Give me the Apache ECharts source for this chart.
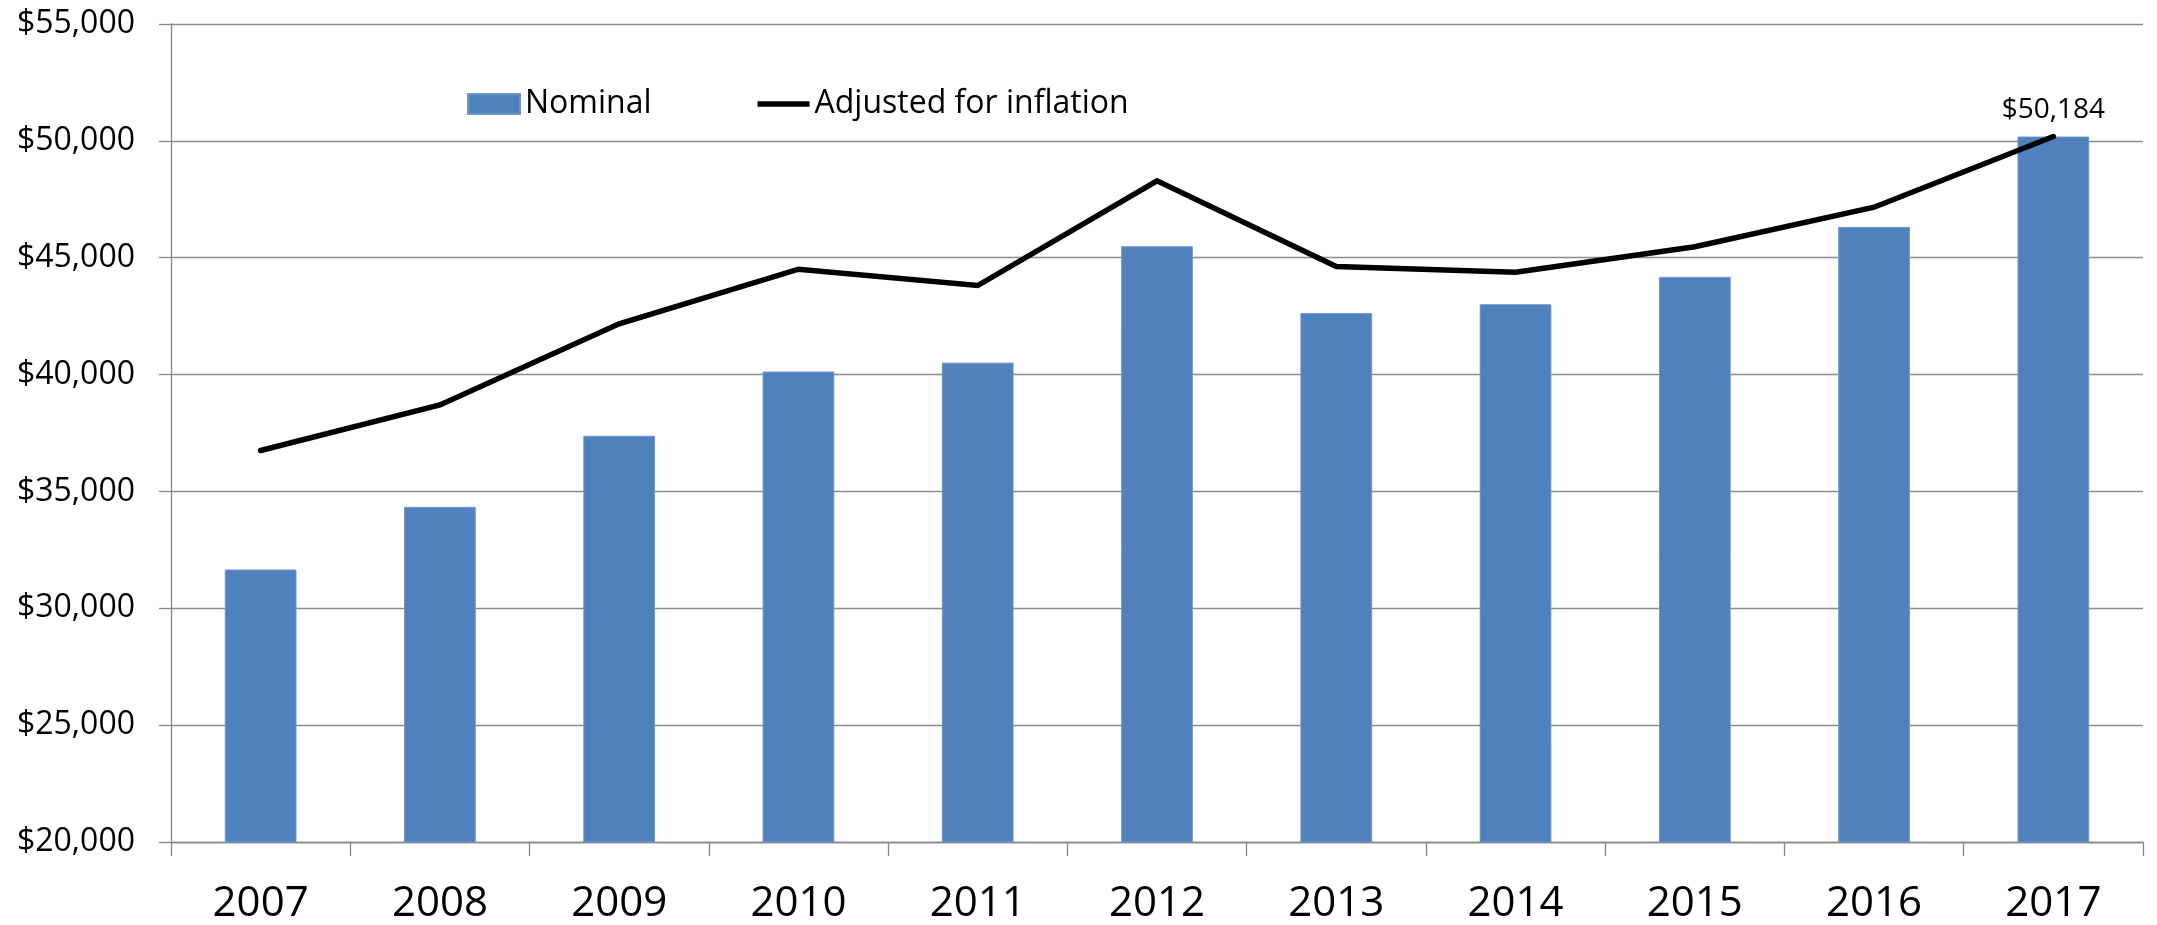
<!DOCTYPE html>
<html>
<head>
<meta charset="utf-8">
<script src="https://cdn.jsdelivr.net/npm/echarts@6/dist/echarts.min.js"></script>
<style>
html,body{margin:0;padding:0;background:#fff;}
#chart{width:2157px;height:925px;}
</style>
</head>
<body>
<div id="chart"></div>
<script>
const years = ['2007','2008','2009','2010','2011','2012','2013','2014','2015','2016','2017'];
const nominal = [31660, 34340, 37380, 40130, 40510, 45490, 42630, 43010, 44180, 46320, 50184];
const adjusted = [36750, 38700, 42170, 44510, 43810, 48290, 44620, 44380, 45470, 47160, 50184];
const seriesNames = ['Nominal', 'Adjusted for inflation'];
const yMin = 20000, yMax = 55000, yStep = 5000;

const FONT = '"Open Sans", sans-serif';
const chart = echarts.init(document.getElementById('chart'), null, {renderer: 'canvas'});
const fmt = v => '$' + v.toLocaleString('en-US');

chart.setOption({
  animation: false,
  backgroundColor: '#ffffff',
  textStyle: {fontFamily: FONT},
  grid: {left: 171, right: 14, top: 24, bottom: 82, containLabel: false},
  legend: {
    left: 462, top: 83,
    itemWidth: 52, itemHeight: 20, itemGap: 106,
    textStyle: {fontFamily: FONT, fontSize: 32, color: '#000'},
    data: [
      {name: seriesNames[0], icon: 'rect'},
      {name: seriesNames[1], icon: 'path://M0,0 L56,0 L56,6 L0,6 Z'}
    ]
  },
  xAxis: {
    type: 'category',
    data: years,
    boundaryGap: true,
    axisLine: {lineStyle: {color: '#868686', width: 1.3}},
    axisTick: {show: true, length: 14, lineStyle: {color: '#868686', width: 1.3}},
    axisLabel: {fontFamily: FONT, fontSize: 42, color: '#000', margin: 41}
  },
  yAxis: {
    type: 'value',
    min: yMin, max: yMax, interval: yStep,
    axisLine: {show: true, lineStyle: {color: '#868686', width: 1.3}},
    axisTick: {show: true, length: 12, lineStyle: {color: '#868686', width: 1.3}},
    splitLine: {lineStyle: {color: '#8c8c8c', width: 1.3}},
    axisLabel: {fontFamily: FONT, fontSize: 32, color: '#000', margin: 36, formatter: fmt}
  },
  series: [
    {
      name: seriesNames[0],
      type: 'bar',
      data: nominal,
      barWidth: '40%',
      itemStyle: {color: '#4F81BD', borderColor: '#6f96c8', borderWidth: 1},
      z: 2
    },
    {
      name: seriesNames[1],
      type: 'line',
      data: adjusted.map((v, i) => i === adjusted.length - 1 ? {
        value: v,
        label: {show: true, position: 'top', distance: 12, formatter: p => fmt(p.value),
                fontFamily: FONT, fontSize: 28, color: '#000'}
      } : v),
      showSymbol: true,
      symbol: 'circle',
      symbolSize: 1,
      lineStyle: {color: '#000', width: 5.5, cap: 'round', join: 'miter'},
      itemStyle: {color: '#000'},
      z: 3
    }
  ]
});
</script>
</body>
</html>
